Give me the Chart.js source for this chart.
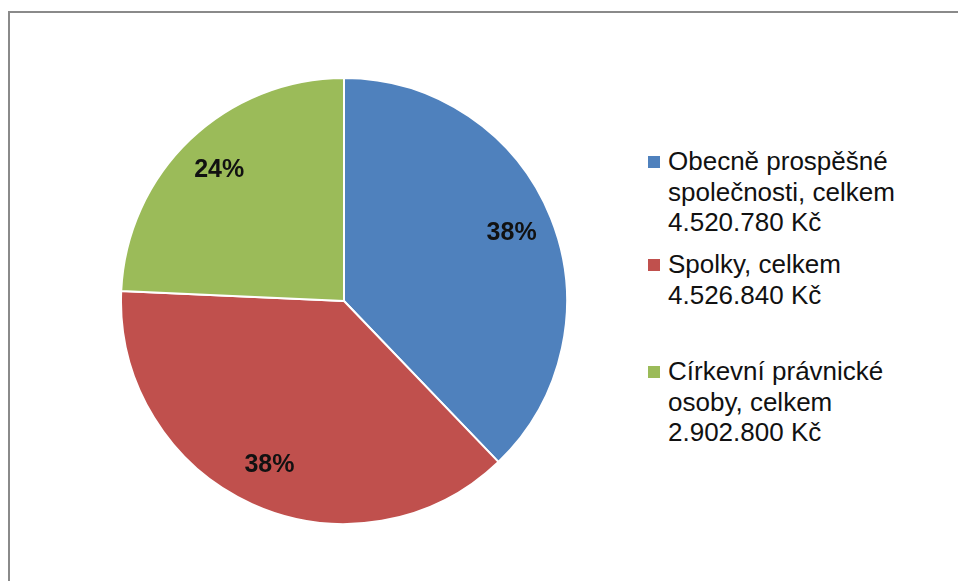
<!DOCTYPE html>
<html>
<head>
<meta charset="utf-8">
<script src="https://cdn.jsdelivr.net/npm/chart.js@4.4.1/dist/chart.umd.min.js"></script>
<style>
  html, body { margin: 0; padding: 0; background: #fff; overflow: hidden; }
  body { width: 958px; height: 581px; position: relative; font-family: "Liberation Sans", Arial, sans-serif; }
  #frame { position: absolute; left: 8px; top: 11px; width: 1000px; height: 700px; border: 2px solid #8a8a8a; box-sizing: border-box; }
  #pieBox { position: absolute; left: 120px; top: 77px; width: 448px; height: 448px; }
  #legend { position: absolute; left: 648px; top: 0; margin: 0; padding: 0; list-style: none; }
  #legend li { position: absolute; left: 0; white-space: pre; font-size: 26px; line-height: 30.5px; color: #111; padding-left: 20px; }
  #legend li span.box { position: absolute; left: 0; top: 10px; width: 12px; height: 12px; }
  #legend li:nth-child(1) { top: 146px; }
  #legend li:nth-child(2) { top: 249px; }
  #legend li:nth-child(3) { top: 356px; }
</style>
</head>
<body>
<div id="frame"></div>
<div id="pieBox"><canvas id="pie"></canvas></div>
<ul id="legend"></ul>
<script>
const categories = ["Obecně prospěšné\nspolečnosti, celkem", "Spolky, celkem", "Církevní právnické\nosoby, celkem"];
const amounts = [4520780, 4526840, 2902800];
const colors = ["#4f81bd", "#c0504d", "#9bbb59"];

function formatKc(v) {
  return String(v).replace(/\B(?=(\d{3})+(?!\d))/g, ".") + " Kč";
}

const total = amounts.reduce((a, b) => a + b, 0);

// percent labels inside slices
const pctLabels = {
  id: "pctLabels",
  afterDatasetsDraw(chart) {
    const ctx = chart.ctx;
    const meta = chart.getDatasetMeta(0);
    ctx.save();
    ctx.font = "bold 25px 'Liberation Sans', Arial, sans-serif";
    ctx.fillStyle = "#111";
    ctx.textAlign = "center";
    ctx.textBaseline = "middle";
    meta.data.forEach((arc, i) => {
      const p = arc.getProps(["x", "y", "startAngle", "endAngle", "outerRadius"], true);
      const mid = (p.startAngle + p.endAngle) / 2;
      const r = p.outerRadius * 0.81;
      const pct = Math.round(amounts[i] / total * 100) + "%";
      ctx.fillText(pct, p.x + Math.cos(mid) * r, p.y + Math.sin(mid) * r);
    });
    ctx.restore();
  }
};

new Chart(document.getElementById("pie"), {
  type: "pie",
  data: {
    labels: categories,
    datasets: [{
      data: amounts,
      backgroundColor: colors,
      borderColor: "#fff",
      borderWidth: 2
    }]
  },
  options: {
    responsive: true,
    maintainAspectRatio: false,
    animation: false,
    events: [],
    layout: { padding: 0 },
    plugins: {
      legend: { display: false },
      tooltip: { enabled: false }
    }
  },
  plugins: [pctLabels]
});

const legend = document.getElementById("legend");
categories.forEach((c, i) => {
  const li = document.createElement("li");
  const box = document.createElement("span");
  box.className = "box";
  box.style.background = colors[i];
  li.appendChild(box);
  li.appendChild(document.createTextNode(c + "\n" + formatKc(amounts[i])));
  legend.appendChild(li);
});
</script>
</body>
</html>
